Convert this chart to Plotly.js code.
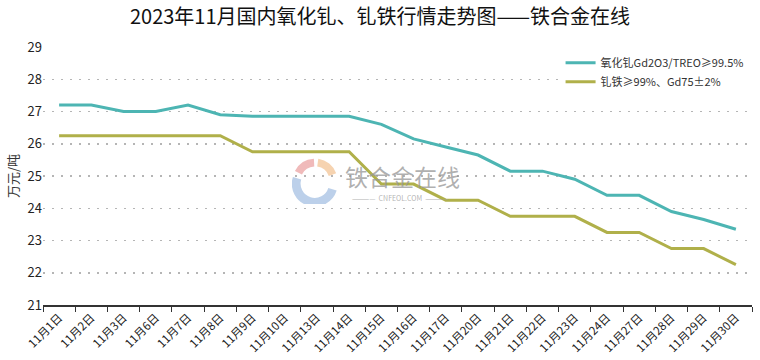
<!DOCTYPE html>
<html>
<head>
<meta charset="utf-8">
<script src="https://cdn.plot.ly/plotly-3.0.1.min.js"></script>
<style>html,body{margin:0;padding:0;background:#fff;}#chart{width:760px;height:360px;}</style>
</head>
<body>
<div id="chart"></div>
<script>
const categories = ["11月1日","11月2日","11月3日","11月6日","11月7日","11月8日","11月9日","11月10日","11月13日","11月14日","11月15日","11月16日","11月17日","11月20日","11月21日","11月22日","11月23日","11月24日","11月27日","11月28日","11月29日","11月30日"];
const gdOxide = [27.2,27.2,27.0,27.0,27.2,26.9,26.85,26.85,26.85,26.85,26.6,26.15,25.9,25.65,25.15,25.15,24.9,24.4,24.4,23.9,23.65,23.35];
const gdFe = [26.25,26.25,26.25,26.25,26.25,26.25,25.75,25.75,25.75,25.75,24.75,24.75,24.25,24.25,23.75,23.75,23.75,23.25,23.25,22.75,22.75,22.25];
const seriesNames = ["氧化钆Gd2O3/TREO≥99.5%","钆铁≥99%、Gd75±2%"];
const yTicks = [21,22,23,24,25,26,27,28,29];

const font = "'Noto Sans CJK SC', 'Noto Sans', sans-serif";
const logoSvg = '<svg xmlns="http://www.w3.org/2000/svg" width="100" height="100" viewBox="0 0 100 100">' +
  '<path d="M48 10 A40 40 0 0 0 14 32" stroke="#efb3b3" stroke-width="17" fill="none"/>' +
  '<path d="M56 10 A40 40 0 0 1 88 36" stroke="#f6cfa8" stroke-width="17" fill="none"/>' +
  '<path d="M11 44 A40 40 0 0 0 88 68" stroke="#b5cce8" stroke-width="19" fill="none"/>' +
  '</svg>';
const logoUri = 'data:image/svg+xml;base64,' + btoa(logoSvg);

const traces = [
  {x: categories, y: gdOxide, name: seriesNames[0], type: 'scatter', mode: 'lines',
   line: {color: '#4db5b3', width: 3}},
  {x: categories, y: gdFe, name: seriesNames[1], type: 'scatter', mode: 'lines',
   line: {color: '#b0b04a', width: 3}}
];

const layout = {
  width: 760, height: 360,
  margin: {l: 43, r: 8, t: 47, b: 55},
  paper_bgcolor: '#fff', plot_bgcolor: '#fff',
  title: {text: '2023年11月国内氧化钆、钆铁行情走势图——铁合金在线', x: 0.5, xanchor: 'center', y: 0.952, yanchor: 'middle',
          font: {family: font, size: 20, color: '#111'}},
  showlegend: true,
  legend: {x: 0.73, y: 0.995, xanchor: 'left', yanchor: 'top', bgcolor: '#fff',
           font: {family: font, size: 11, color: '#333'}, itemwidth: 30, tracegroupgap: 0},
  xaxis: {type: 'category', categoryorder: 'array', categoryarray: categories,
          range: [-0.5, categories.length - 0.5], tickson: 'boundaries',
          ticks: 'outside', ticklen: 5, tickcolor: '#333', showline: true, linecolor: '#333', linewidth: 1.5,
          showgrid: false, tickangle: -45, tickfont: {family: font, size: 11.5, color: '#222'}, fixedrange: true},
  yaxis: {range: [21, 29], tickvals: yTicks, showgrid: true, gridcolor: '#b5b5b5', griddash: '2px,7px', gridwidth: 1.5,
          zeroline: false, showline: false, ticks: '', tickfont: {family: font, size: 13, color: '#222'},
          title: {text: '万元/吨', font: {family: font, size: 13, color: '#333'}, standoff: 6}},
  images: [{source: logoUri, xref: 'paper', yref: 'paper', x: (315 - 43) / 709, y: (305 - 181) / 258,
            sizex: 46 / 709, sizey: 46 / 258, xanchor: 'center', yanchor: 'middle', layer: 'above', opacity: 0.9}],
  annotations: [
    {text: '铁合金在线', xref: 'paper', yref: 'paper', x: (402 - 43) / 709, y: (305 - 176) / 258,
     showarrow: false, font: {family: font, size: 23, color: 'rgba(150,150,150,0.75)'}, xanchor: 'center', yanchor: 'middle'},
    {text: '————  CNFEOL.COM  ————', xref: 'paper', yref: 'paper', x: (400 - 43) / 709, y: (305 - 198) / 258,
     showarrow: false, font: {family: font, size: 7, color: 'rgba(160,160,160,0.8)'}, xanchor: 'center', yanchor: 'middle'}
  ]
};

Plotly.newPlot('chart', traces, layout, {displayModeBar: false, staticPlot: true});
</script>
</body>
</html>
